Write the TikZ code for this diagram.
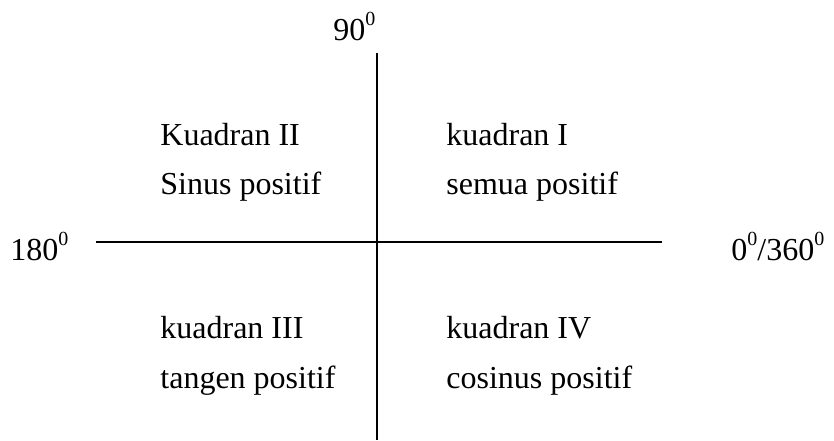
\documentclass[tikz,border=0pt]{standalone}
\usepackage{fontspec}
\setmainfont{Liberation Serif}
\usetikzlibrary{positioning}
\newcommand{\supo}{\raisebox{7.5pt}{\fontsize{10}{10}\selectfont 0}}

\begin{document}
\begin{tikzpicture}[
  x=0.5pt, y=-0.5pt,
  font=\fontsize{16}{19}\selectfont,
  lbl/.style={anchor=base west, inner sep=0pt},
  axis/.style={line width=0.7pt}
]
\useasboundingbox (0,0) rectangle (834,440);
% axes
\coordinate (top) at (377,53);
\coordinate (bottom) at (377,440);
\coordinate (left) at (96,242);
\coordinate (right) at (662,242);
\draw[axis] (top) -- (bottom);
\draw[axis] (left) -- (right);
% angle labels
\node[lbl] (deg90) at (333,40) {90\supo};
\node[lbl] (deg180) at (10,260) {180\supo};
\node[lbl] (deg0) at (731,260) {0\supo/360\supo};
% quadrants
\node[lbl] (q2) at (160,145) {Kuadran II};
\node[lbl] (q2s) at (160,194) {Sinus positif};
\node[lbl] (q1) at (446,145) {kuadran I};
\node[lbl] (q1s) at (446,194) {semua positif};
\node[lbl] (q3) at (160,338) {kuadran III};
\node[lbl] (q3s) at (160,388) {tangen positif};
\node[lbl] (q4) at (446,338) {kuadran IV};
\node[lbl] (q4s) at (446,388) {cosinus positif};
\end{tikzpicture}
\end{document}
